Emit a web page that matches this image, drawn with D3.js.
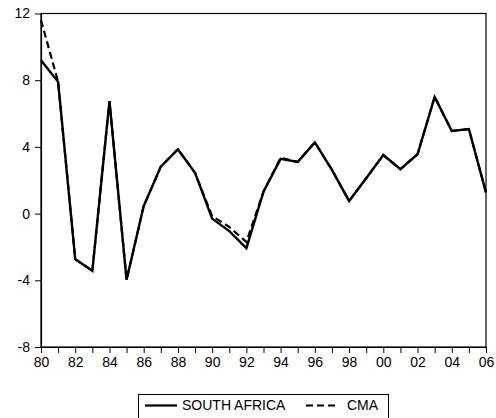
<!DOCTYPE html>
<html>
<head>
<meta charset="utf-8">
<script src="https://cdn.jsdelivr.net/npm/d3@7"></script>
<style>
  body { margin: 0; background: #fff; }
  text { font-family: "Liberation Sans", Arial, sans-serif; }
</style>
</head>
<body>
<div id="vis"></div>
<script>
// values
const years = [1980, 1981, 1982, 1983, 1984, 1985, 1986, 1987, 1988, 1989,
        1990, 1991, 1992, 1993, 1994, 1995, 1996, 1997, 1998, 1999,
        2000, 2001, 2002, 2003, 2004, 2005, 2006];
const southAfrica = [9.2, 7.9, -2.73, -3.43, 6.75, -3.97, 0.45, 2.82, 3.86, 2.45,
        -0.3, -1.05, -2.07, 1.32, 3.28, 3.1, 4.27, 2.62, 0.76, 2.12,
        3.51, 2.66, 3.56, 7.0, 4.95, 5.07, 1.26];
const cma = [11.6, 7.9, -2.73, -3.43, 6.75, -3.97, 0.45, 2.82, 3.86, 2.45,
        -0.15, -0.8, -1.7, 1.32, 3.35, 3.1, 4.27, 2.62, 0.76, 2.12,
        3.51, 2.66, 3.56, 7.0, 4.95, 5.07, 1.26];
const yTicks = [-8, -4, 0, 4, 8, 12];
const seriesNames = ["SOUTH AFRICA", "CMA"];

const width = 496;
const height = 418;
const plot = {left: 41, right: 486, top: 13.5, bottom: 347};

const svg = d3.select("#vis")
        .append("svg")
        .attr("width", width)
        .attr("height", height);

const x = d3.scaleLinear()
        .domain([d3.min(years), d3.max(years)])
        .range([plot.left, plot.right]);

const y = d3.scaleLinear()
        .domain([d3.min(yTicks), d3.max(yTicks)])
        .range([plot.bottom, plot.top]);

// frame
svg.append("rect")
        .attr("x", plot.left)
        .attr("y", plot.top)
        .attr("width", plot.right - plot.left)
        .attr("height", plot.bottom - plot.top)
        .attr("fill", "none")
        .attr("stroke", "black")
        .attr("stroke-width", 1.2);

// axes
const xAxis = d3.axisBottom(x)
        .tickValues(years)
        .tickSizeInner(6)
        .tickSizeOuter(0)
        .tickPadding(4)
        .tickFormat(d => d % 2 === 0 ? String(d).slice(2) : "");

svg.append("g")
        .attr("transform", "translate(0," + plot.bottom + ")")
        .call(xAxis)
        .call(g => g.select(".domain").attr("stroke-width", 1.2))
        .call(g => g.selectAll("text")
                .attr("font-size", 14)
                .attr("fill", "black")
                .attr("font-family", "Liberation Sans, Arial, sans-serif"));

// plain hyphen for negatives, like the original
const yAxis = d3.axisLeft(y)
        .tickValues(yTicks)
        .tickSizeInner(6)
        .tickSizeOuter(0)
        .tickPadding(5)
        .tickFormat(d => String(d));

svg.append("g")
        .attr("transform", "translate(" + plot.left + ",0)")
        .call(yAxis)
        .call(g => g.select(".domain").attr("stroke-width", 1.2))
        .call(g => g.selectAll("text")
                .attr("font-size", 14)
                .attr("fill", "black")
                .attr("font-family", "Liberation Sans, Arial, sans-serif"));

// lines
const line = d3.line()
        .x((d, i) => x(years[i]))
        .y(d => y(d));

svg.append("path")
        .datum(cma)
        .attr("d", line)
        .attr("fill", "none")
        .attr("stroke", "black")
        .attr("stroke-width", 2.2)
        .attr("stroke-dasharray", "7,4");

svg.append("path")
        .datum(southAfrica)
        .attr("d", line)
        .attr("fill", "none")
        .attr("stroke", "black")
        .attr("stroke-width", 2.4)
        .attr("stroke-linejoin", "miter");

// legend
const legend = svg.append("g");

legend.append("rect")
        .attr("x", 138.5)
        .attr("y", 394.5)
        .attr("width", 250)
        .attr("height", 40)
        .attr("fill", "white")
        .attr("stroke", "black")
        .attr("stroke-width", 1);

const legendItems = [
  {name: seriesNames[0], x1: 145, x2: 177, tx: 182, dash: null},
  {name: seriesNames[1], x1: 306, x2: 335, tx: 347, dash: "7,4"}
];

legendItems.forEach(item => {
  legend.append("line")
          .attr("x1", item.x1)
          .attr("x2", item.x2)
          .attr("y1", 405.5)
          .attr("y2", 405.5)
          .attr("stroke", "black")
          .attr("stroke-width", 2.2)
          .attr("stroke-dasharray", item.dash);
  legend.append("text")
          .attr("x", item.tx)
          .attr("y", 410)
          .attr("font-size", 14)
          .attr("fill", "black")
          .text(item.name);
});
</script>
</body>
</html>
